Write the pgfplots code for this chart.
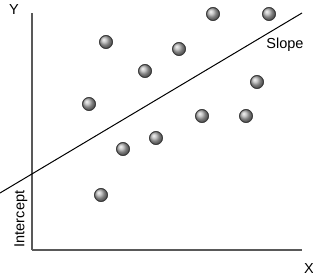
\documentclass[border=0pt]{standalone}
\usepackage{pgfplots}
\pgfplotsset{compat=1.18}
\usepackage{fontspec}
\setmainfont{Liberation Sans}
\begin{document}
\begin{tikzpicture}
\begin{axis}[
  x=1pt, y=1pt, scale only axis,
  xmin=32, xmax=302, ymin=26, ymax=263,
  axis lines=left,
  axis line style={line width=1.5pt, draw=black!65, -},
  xtick=\empty, ytick=\empty,
  clip=false,
]
\addplot[black, line width=1pt] coordinates {(0,83) (302,263)};
\node[fill=white, inner sep=1.5pt, rotate=90, font=\fontsize{14.5}{17}\selectfont] at (axis cs:21,57) {Intercept};
\addplot[only marks, mark=ball, mark size=6.5pt, ball color=gray!60] coordinates {
(106,234) (145,205) (89,172) (213,262) (269,262) (179,227) (257,194) (202,160) (246,160) (156,138) (123,127) (101,81)};
\addplot[only marks, mark=o, mark size=6.5pt, mark options={draw=black!75, line width=0.8pt}] coordinates {
(106,234) (145,205) (89,172) (213,262) (269,262) (179,227) (257,194) (202,160) (246,160) (156,138) (123,127) (101,81)};
\node[inner sep=0pt, font=\fontsize{14.5}{17}\selectfont] at (axis cs:14,266) {Y};
\node[inner sep=0pt, font=\fontsize{14.5}{17}\selectfont] at (axis cs:309,7) {X};
\node[inner sep=0pt, font=\fontsize{14.5}{17}\selectfont] at (axis cs:285,231) {Slope};
\coordinate (bl) at (axis cs:0,0);
\coordinate (tr) at (axis cs:313,276);
\end{axis}
\pgfresetboundingbox
\path[use as bounding box] (bl) rectangle (tr);
\end{tikzpicture}
\end{document}
